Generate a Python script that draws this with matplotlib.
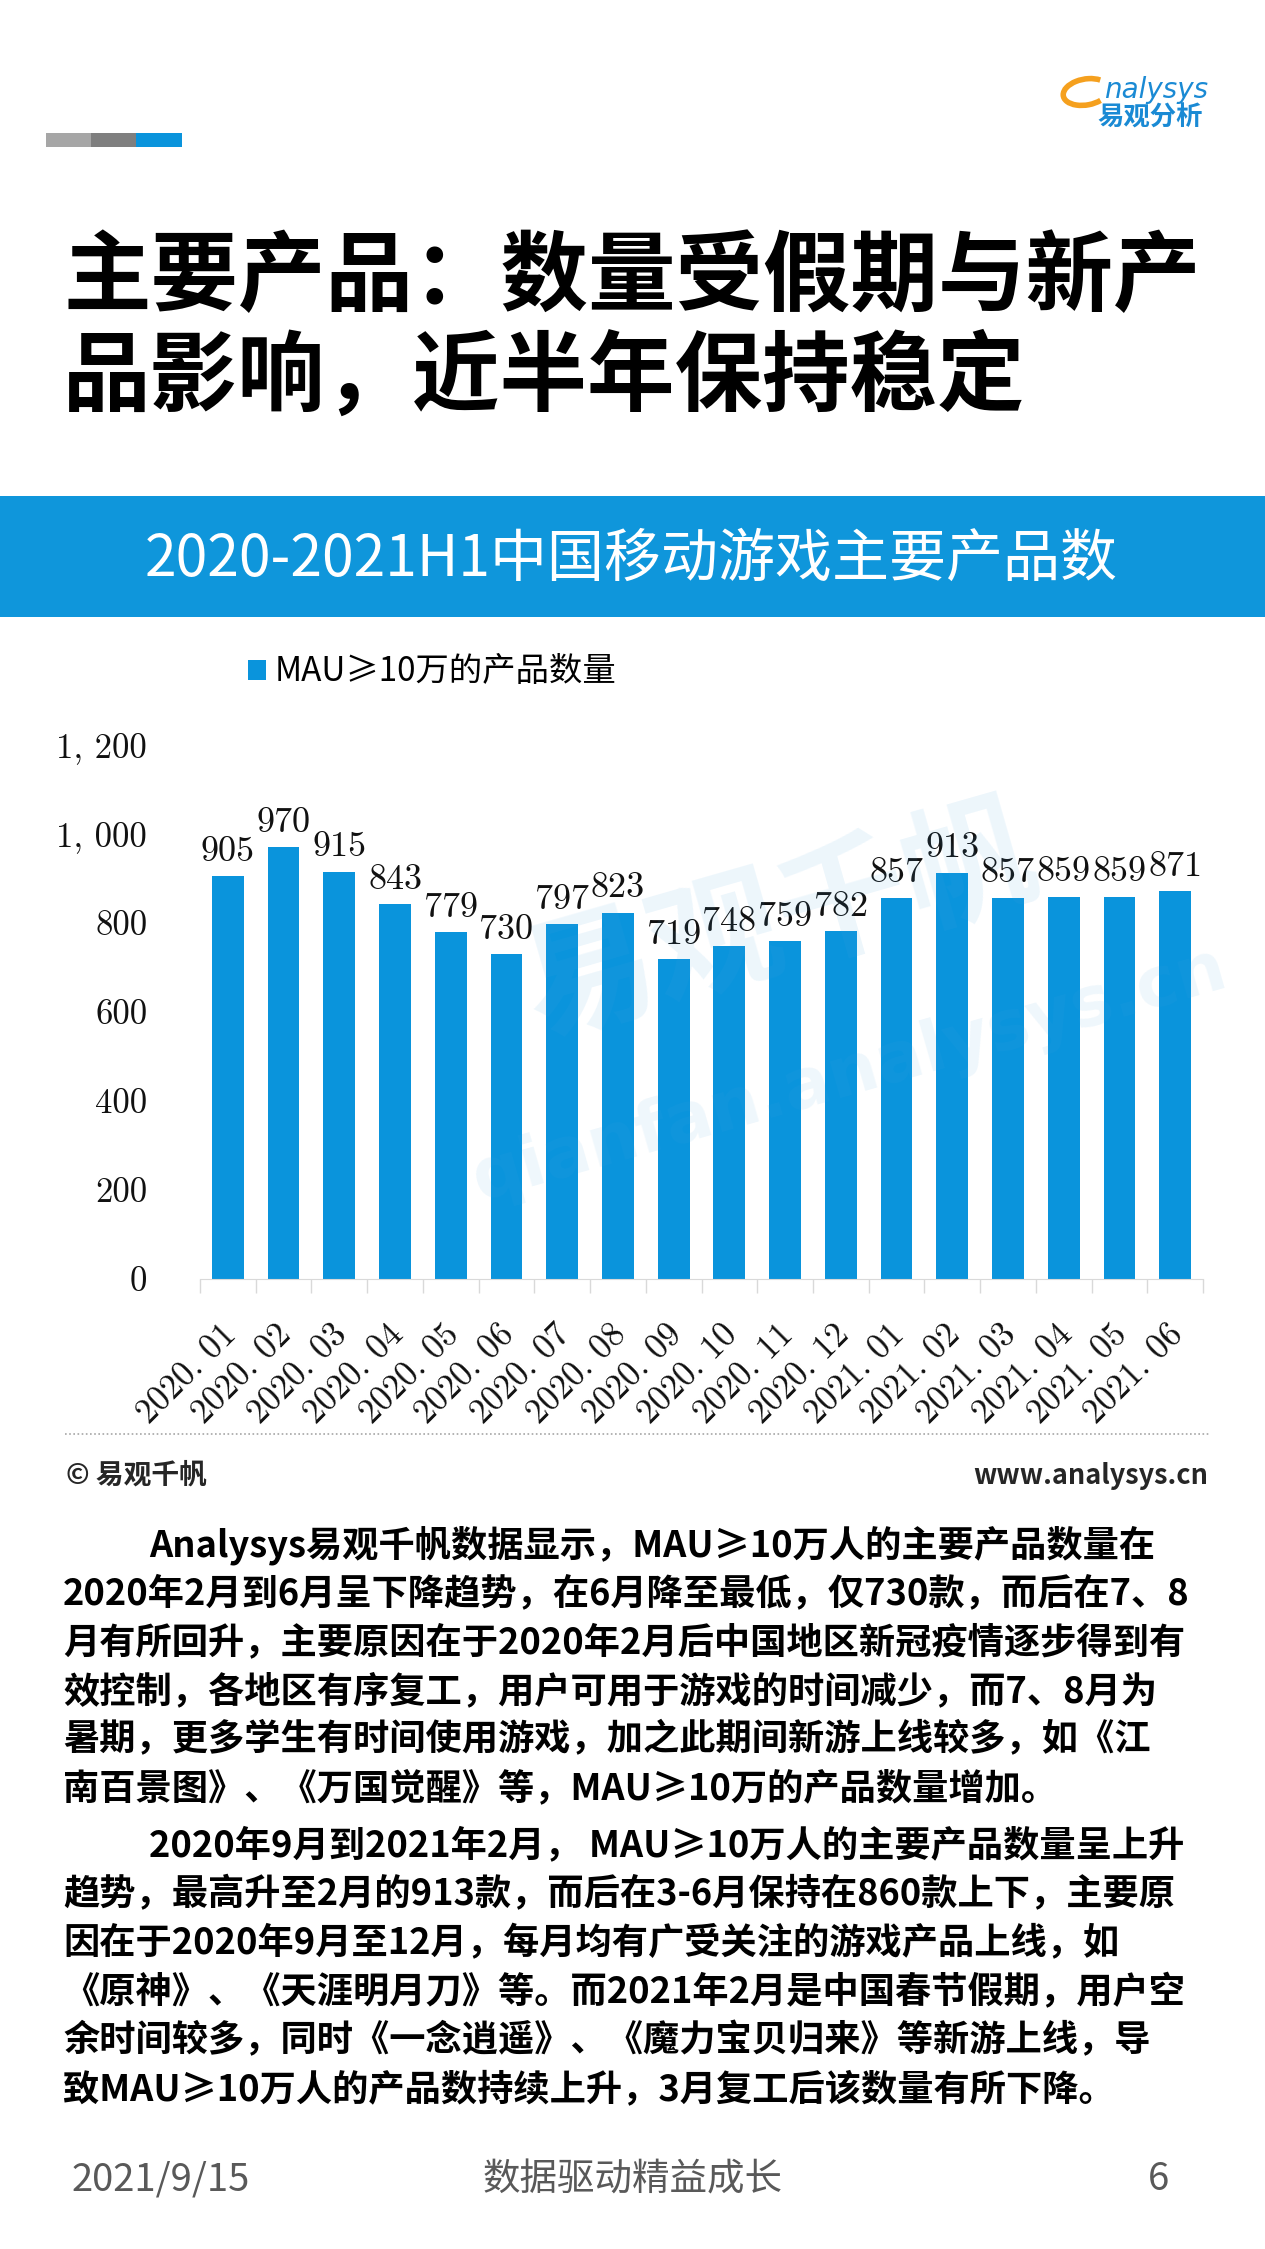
import numpy as np
import matplotlib
matplotlib.use("Agg")
from matplotlib import pyplot as plt
from matplotlib.patches import Rectangle, Arc
from matplotlib.ticker import FuncFormatter

plt.rcParams['font.family'] = ['Noto Sans CJK SC', 'DejaVu Sans']
plt.rcParams['axes.formatter.use_mathtext'] = True

# data
months = ["2020.01", "2020.02", "2020.03", "2020.04", "2020.05", "2020.06",
          "2020.07", "2020.08", "2020.09", "2020.10", "2020.11", "2020.12",
          "2021.01", "2021.02", "2021.03", "2021.04", "2021.05", "2021.06"]
counts = [905, 970, 915, 843, 779, 730, 797, 823, 719, 748, 759, 782,
          857, 913, 857, 859, 859, 871]
series_name = "MAU≥10万的产品数量"
y_ticks = [0, 200, 400, 600, 800, 1000, 1200]

title_lines = ["主要产品：数量受假期与新产", "品影响，近半年保持稳定"]
chart_title = "2020-2021H1中国移动游戏主要产品数"
para1 = ["Analysys易观千帆数据显示，MAU≥10万人的主要产品数量在",
         "2020年2月到6月呈下降趋势，在6月降至最低，仅730款，而后在7、8",
         "月有所回升，主要原因在于2020年2月后中国地区新冠疫情逐步得到有",
         "效控制，各地区有序复工，用户可用于游戏的时间减少，而7、8月为",
         "暑期，更多学生有时间使用游戏，加之此期间新游上线较多，如《江",
         "南百景图》、《万国觉醒》等，MAU≥10万的产品数量增加。"]
para2 = ["2020年9月到2021年2月， MAU≥10万人的主要产品数量呈上升",
         "趋势，最高升至2月的913款，而后在3-6月保持在860款上下，主要原",
         "因在于2020年9月至12月，每月均有广受关注的游戏产品上线，如",
         "《原神》、《天涯明月刀》等。而2021年2月是中国春节假期，用户空",
         "余时间较多，同时《一念逍遥》、《魔力宝贝归来》等新游上线，导",
         "致MAU≥10万人的产品数持续上升，3月复工后该数量有所下降。"]

W, H = 1265, 2249
blue = '#0a94dc'

fig = plt.figure(figsize=(W / 100, H / 100), dpi=100)
fig.patch.set_facecolor('white')

# chart axes
ax = fig.add_axes([200 / W, 1 - 1279 / H, (1203 - 200) / W, (1279 - 745) / H], zorder=1)
ax.patch.set_alpha(0)
x = np.arange(len(months))
bars = ax.bar(x, counts, width=0.57, color=blue, label=series_name, zorder=2)
ax.bar_label(bars, padding=6, fontsize=26, family='cmr10', color='#111111')
ax.set_xlim(-0.5, len(months) - 0.5)
ax.set_ylim(0, 1200)
ax.set_yticks(y_ticks)
ax.yaxis.set_major_formatter(FuncFormatter(lambda v, _: f"{int(v):,}".replace(",", ", ")))
ax.tick_params(axis='y', length=0, pad=38, labelsize=25, labelcolor='#111111')
for t in ax.get_yticklabels():
    t.set_family('cmr10')
ax.set_xticks(x - 0.14)
ax.set_xticklabels([m.replace(".", ". ") for m in months], rotation=45,
                   ha='right', va='top', rotation_mode='anchor',
                   family='cmr10', fontsize=25, color='#111111')
ax.tick_params(axis='x', which='major', length=0, pad=29)
ax.set_xticks(np.arange(len(months) + 1) - 0.5, minor=True)
ax.tick_params(axis='x', which='minor', length=10, color='#d9d9d9', width=1)
for s in ['top', 'left', 'right']:
    ax.spines[s].set_visible(False)
ax.spines['bottom'].set_color('#d9d9d9')
ax.legend(loc='center left', bbox_to_anchor=(248 / W, 1 - 672 / H),
          bbox_transform=fig.transFigure, frameon=False, fontsize=24,
          handlelength=0.55, handleheight=0.55, handletextpad=0.25,
          borderpad=0, borderaxespad=0)

# page decoration in pixel coordinates
bg = fig.add_axes([0, 0, 1, 1], zorder=2)
bg.set_xlim(0, W)
bg.set_ylim(H, 0)
bg.axis('off')
bg.patch.set_alpha(0)

# logo
bg.add_patch(Arc((1086, 92), 46, 26, angle=-10, theta1=40, theta2=330,
                 color='#f5a01e', lw=4))
bg.text(1104, 90, "nalysys", fontsize=20, style='italic', color='#1a8ad4',
        family='DejaVu Sans', va='center', ha='left')
bg.text(1150, 118, "易观分析", fontsize=19, weight='bold', color='#1a8ad4',
        ha='center', va='center')

# colour strip
bg.add_patch(Rectangle((46, 133), 45, 14, color='#a6a6a6', lw=0))
bg.add_patch(Rectangle((91, 133), 45, 14, color='#7f7f7f', lw=0))
bg.add_patch(Rectangle((136, 133), 46, 14, color=blue, lw=0))

# title
bg.text(63, 279, title_lines[0], fontsize=63, weight='bold', color='black', va='center')
bg.text(63, 378, title_lines[1], fontsize=63, weight='bold', color='black', va='center')

# banner
bg.add_patch(Rectangle((0, 496), W, 121, color='#0f96db', lw=0))
bg.text(631, 560, chart_title, fontsize=41, color='white', ha='center', va='center',
        weight='medium')

# watermark
bg.text(780, 925, "易观千帆", fontsize=95, rotation=16, color='#4aa8e0', alpha=0.10,
        ha='center', va='center', weight='bold')
bg.text(850, 1075, "qianfan.analysys.cn", fontsize=50, rotation=16, color='#4aa8e0',
        alpha=0.09, ha='center', va='center', weight='bold', family='DejaVu Sans')

# source line
bg.plot([65, 1210], [1434, 1434], color='#a6a6a6', lw=1.2, ls=(0, (1, 1.5)))
bg.text(66, 1476, "© 易观千帆", fontsize=20, weight='bold', color='#262626', va='center')
bg.text(1208, 1476, "www.analysys.cn", fontsize=19.5, weight='bold', color='#262626',
        va='center', ha='right')

# body text
for i, line in enumerate(para1):
    bg.text(149 if i == 0 else 63, 1545 + i * 48.8, line, fontsize=26.1,
            weight='bold', color='black', va='center')
for i, line in enumerate(para2):
    bg.text(149 if i == 0 else 63, 1846 + i * 48.8, line, fontsize=26.1,
            weight='bold', color='black', va='center')

# footer
bg.text(72, 2180, "2021/9/15", fontsize=27.5, color='#595959', va='center')
bg.text(633, 2180, "数据驱动精益成长", fontsize=27, color='#595959', va='center', ha='center')
bg.text(1159, 2180, "6", fontsize=27.5, color='#595959', va='center', ha='center')

fig.savefig("out.png", dpi=100)
